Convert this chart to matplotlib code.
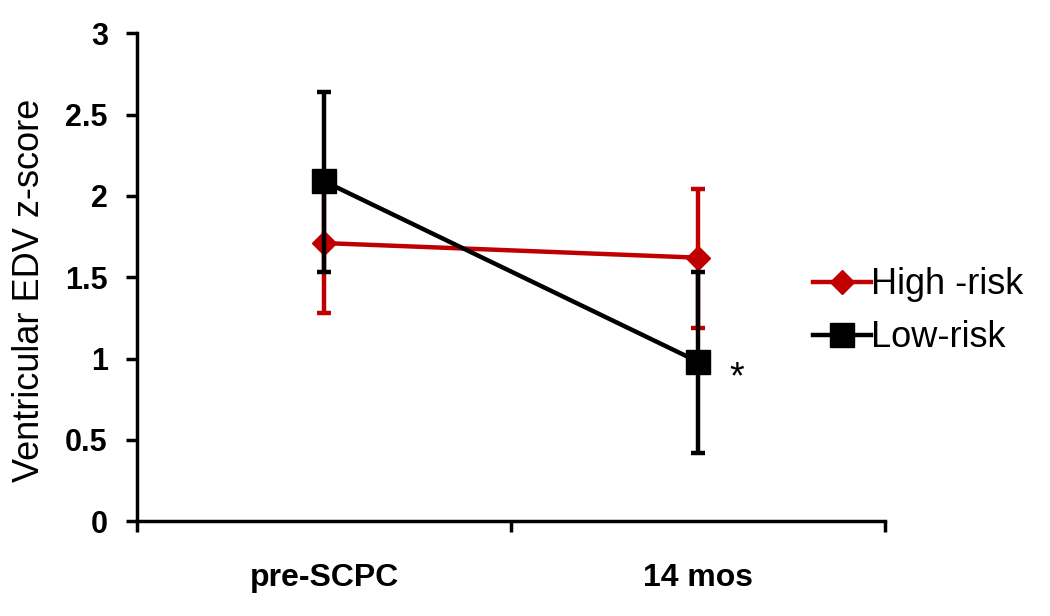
import matplotlib
matplotlib.use("Agg")
import matplotlib.pyplot as plt

plt.rcParams['font.family'] = ['Liberation Sans', 'DejaVu Sans']

# data
tempi = ['pre-SCPC', '14 mos']
alto_rischio = [1.71, 1.62]
alto_err_su = [0.43, 0.42]
alto_err_giu = [0.43, 0.43]
basso_rischio = [2.09, 0.98]
basso_err_su = [0.55, 0.55]
basso_err_giu = [0.56, 0.56]

x = list(range(len(tempi)))

fig = plt.figure(figsize=(10.5, 6.16), dpi=100)
ax = fig.add_axes([0.1305, 0.154, 0.7125, 0.792])

rosso = '#c00000'
# barre di errore
ax.errorbar(x, alto_rischio, yerr=[alto_err_giu, alto_err_su], fmt='none',
            ecolor=rosso, elinewidth=3.2, capsize=5, capthick=3.2, zorder=3)
ax.errorbar(x, basso_rischio, yerr=[basso_err_giu, basso_err_su], fmt='none',
            ecolor='black', elinewidth=3.2, capsize=5, capthick=3.2, zorder=4)
# linee
ax.plot(x, alto_rischio, color=rosso, marker='D', markersize=12,
        linewidth=3.2, label='High -risk', zorder=3)
ax.plot(x, basso_rischio, color='black', marker='s', markersize=17,
        linewidth=3.2, label='Low-risk', zorder=4)

ax.text(1.103, 0.88, '*', fontsize=27, ha='center', va='center')

ax.set_xlim(-0.5, 1.5)
ax.set_ylim(0, 3)
ax.set_yticks([0, 0.5, 1, 1.5, 2, 2.5, 3])
ax.set_yticklabels(['0', '0.5', '1', '1.5', '2', '2.5', '3'])
ax.set_xticks(x)
ax.set_xticklabels(tempi)
ax.set_xticks([-0.5, 0.5, 1.5], minor=True)
ax.tick_params(axis='x', which='major', length=0, pad=30)
ax.tick_params(axis='x', which='minor', length=8, width=2.5)
ax.tick_params(axis='y', length=8, width=2.5, pad=13)
for lab in ax.get_xticklabels():
    lab.set_fontsize(23)
    lab.set_fontweight('bold')
for lab in ax.get_yticklabels():
    lab.set_fontsize(22)
    lab.set_fontweight('bold')

ax.spines['top'].set_visible(False)
ax.spines['right'].set_visible(False)
ax.spines['left'].set_linewidth(2.5)
ax.spines['bottom'].set_linewidth(2.5)

ax.set_ylabel('Ventricular EDV z-score', fontsize=26)
ax.yaxis.set_label_coords(-0.121, 0.473)

ax.legend(loc='center left', bbox_to_anchor=(0.884, 0.43), frameon=False,
          fontsize=26, handlelength=1.6, handletextpad=0.0,
          labelspacing=0.5, borderaxespad=0)

plt.savefig('out.png', dpi=100)
